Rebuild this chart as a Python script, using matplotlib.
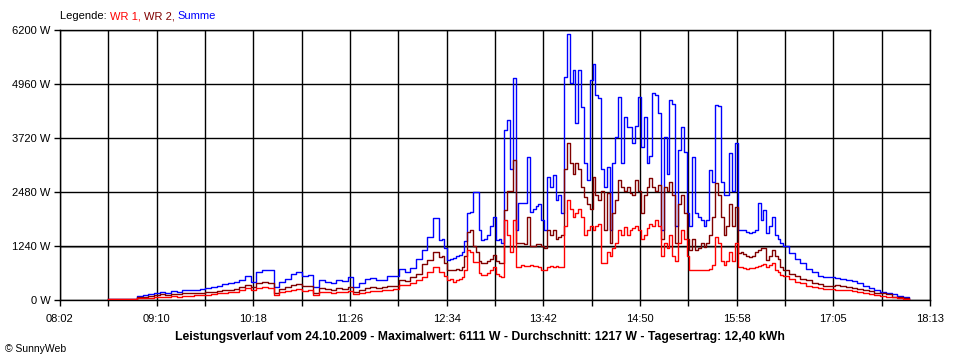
import numpy as np
import matplotlib
matplotlib.use("Agg")
import matplotlib.pyplot as plt

plt.rcParams["font.family"] = ["Liberation Sans", "DejaVu Sans"]

# ── data ─────────────────────────────────────────────────────────────────────
# sample times in minutes after midnight
TIMES = np.concatenate([np.arange(516, 750, 4),
                        np.arange(750, 990, 2),
                        np.arange(990, 1079, 4)])

SUMME = [
    25, 25, 25, 25, 25, 90, 110, 130, 170, 190, 170, 210, 190, 220, 230, 240,
    250, 270, 300, 330, 370, 400, 420, 470, 540, 420, 640, 700, 680, 300, 420,
    480, 600, 640, 560, 580, 300, 470, 420, 380, 460, 440, 530, 290, 380, 480,
    500, 450, 470, 540, 560, 720, 650, 730, 950, 1150, 1450, 1880, 1380,
    # 12:30 - 16:28
    1400, 1190, 920, 950, 960, 1000, 1030, 1100, 1350, 1990, 2030, 2490, 2480,
    1600, 1380, 1400, 1500, 1700, 1910, 1380, 1400, 1310, 3900, 4130, 3000,
    5090, 1610, 2220, 2220, 2220, 3290, 2030, 2100, 2150, 2200, 1840, 1610,
    2830, 2600, 2870, 2300, 2400, 1990, 5130, 6111, 4975, 5280, 4060, 5280,
    4440, 3140, 2750, 5050, 5430, 4700, 4630, 3000, 2600, 3060, 1610, 3140,
    3750, 4670, 3140, 4210, 3980, 3980, 3600, 4000, 4668, 3520, 4210, 3140,
    3300, 4745, 4700, 4286, 1607, 3750, 2900, 4590, 4500, 1700, 3444, 3980,
    3400, 2000, 1700, 3290, 2000, 1900, 1840, 1700, 1840, 2985, 2700, 4478,
    4450, 2700, 2400, 2400, 3368, 2500, 3600, 1607, 1600, 1600, 1560, 1531,
    1560, 1600, 2220, 1840, 2067, 1531, 1700, 1914, 1500, 1400, 1300,
    # 16:30 - 17:58
    1250, 1080, 930, 840, 720, 640, 560, 530, 530, 510, 480, 465, 430, 380,
    320, 280, 230, 190, 160, 140, 100, 70, 25,
]

WR2 = [
    20, 20, 20, 20, 20, 60, 80, 90, 110, 130, 120, 140, 130, 150, 150, 160,
    165, 177, 190, 205, 225, 240, 260, 300, 345, 300, 390, 420, 400, 150, 260,
    300, 340, 360, 320, 320, 170, 270, 260, 240, 270, 260, 290, 190, 230, 280,
    290, 280, 300, 310, 330, 450, 430, 535, 600, 820, 920, 1100, 980,
    1000, 850, 700, 700, 690, 720, 700, 760, 1000, 1570, 1600, 1250, 1100,
    900, 850, 840, 900, 950, 1030, 900, 850, 848, 2070, 2500, 2500,
    3210, 1300, 1300, 1300, 1280, 1910, 1250, 1250, 1280, 1280, 1250, 1200,
    1600, 1500, 1600, 1400, 1450, 1500, 3000, 3600, 3140, 2900, 3140, 3000,
    2600, 2370, 2200, 2100, 2830, 2400, 2300, 2500, 1610, 2450, 1300, 2000,
    2300, 2750, 2600, 2500, 2600, 2450, 2400, 2750, 2500, 2000, 2400, 2600,
    2800, 2600, 2500, 2650, 1400, 2600, 2500, 2710, 2400, 1300, 2200, 2400,
    2000, 1400, 1150, 1400, 1150, 1200, 1300, 1225, 1300, 1500, 1900, 2680,
    2400, 1900, 1500, 1700, 2200, 1700, 2143, 1072, 1100, 1050, 1000, 995,
    1000, 1100, 1150, 1186, 1200, 918, 1000, 1148, 1000, 950, 765,
    700, 600, 540, 490, 450, 400, 370, 330, 321, 340, 330, 300, 280, 260,
    230, 200, 170, 150, 130, 80, 60, 40, 20,
]

WR1 = [
    15, 15, 15, 15, 15, 40, 50, 55, 65, 75, 75, 85, 80, 95, 100, 110,
    110, 115, 130, 150, 160, 175, 190, 220, 268, 230, 280, 290, 280, 110, 190,
    210, 240, 250, 214, 220, 120, 190, 180, 170, 190, 185, 200, 130, 160, 190,
    200, 200, 220, 230, 250, 340, 340, 383, 450, 535, 650, 765, 650,
    650, 560, 470, 480, 420, 450, 480, 535, 700, 1150, 1110, 880, 880,
    620, 574, 580, 620, 700, 765, 600, 540, 535, 1840, 1500, 1100,
    1840, 765, 765, 800, 780, 780, 800, 780, 780, 760, 700, 690,
    760, 780, 760, 780, 760, 760, 1700, 2300, 2100, 1900, 2000, 2100,
    1900, 1500, 1600, 1700, 1610, 1700, 1750, 842, 850, 1100, 1000, 1200,
    1300, 1607, 1500, 1684, 1500, 1600, 1650, 1700, 1600, 1400, 1500, 1650,
    1750, 1700, 1837, 1700, 1000, 1300, 1200, 1500, 1000, 900, 1300, 1600,
    1400, 1000, 690, 700, 700, 690, 700, 690, 700, 720, 800, 1454,
    1300, 900, 800, 900, 1100, 900, 1300, 765, 750, 740, 720, 740,
    740, 760, 780, 804, 820, 750, 800, 842, 700, 640, 574,
    550, 480, 420, 380, 330, 290, 270, 250, 245, 240, 230, 220, 200, 185,
    165, 140, 120, 95, 75, 60, 40, 25, 15,
]

Y_TICKS = [0, 1240, 2480, 3720, 4960, 6200]
X_LABELS = ["08:02", "09:10", "10:18", "11:26", "12:34",
            "13:42", "14:50", "15:58", "17:05", "18:13"]
T_MIN, T_MAX = 482, 1093

C_WR1 = "#FF0000"
C_WR2 = "#800000"
C_SUM = "#0000FF"

# ── figure ───────────────────────────────────────────────────────────────────
fig = plt.figure(figsize=(9.6, 3.6), dpi=100, facecolor="white")
ax = fig.add_axes([0.0625, 0.1667, 0.90625, 0.75])

ax.plot(TIMES, SUMME, color=C_SUM, lw=1.0, drawstyle="steps-post", zorder=3)
ax.plot(TIMES, WR2, color=C_WR2, lw=1.0, drawstyle="steps-post", zorder=4)
ax.plot(TIMES, WR1, color=C_WR1, lw=1.0, drawstyle="steps-post", zorder=5)

ax.set_xlim(T_MIN, T_MAX)
ax.set_ylim(0, 6200)

n_grid = 2 * (len(X_LABELS) - 1)
grid_x = np.linspace(T_MIN, T_MAX, n_grid + 1)
ax.set_xticks(grid_x[::2])
ax.set_xticklabels(X_LABELS, fontsize=8)
ax.set_xticks(grid_x[1::2], minor=True)
ax.set_yticks(Y_TICKS)
ax.set_yticklabels([f"{v} W" for v in Y_TICKS], fontsize=8)

ax.tick_params(axis="both", which="both", direction="out", length=4,
               width=1, color="black", pad=3)
ax.tick_params(axis="x", pad=6)
ax.grid(True, which="both", color="black", lw=1.0, zorder=1)
for s in ax.spines.values():
    s.set_color("black")
    s.set_linewidth(1.0)

# the 1240 W line has a grey shadow in the original
ax.axhline(1240 - 22, color="#909090", lw=0.8, zorder=1)

# legend line on top, coloured word by word
prev = fig.text(0.0625, 0.955, "Legende: ", fontsize=8, color="black",
                va="center")
for txt, col in [("WR 1, ", C_WR1), ("WR 2, ", C_WR2), ("Summe", C_SUM)]:
    prev = ax.annotate(txt, xy=(1, 0.5), xycoords=prev, va="center",
                       ha="left", fontsize=8, color=col, annotation_clip=False)

fig.text(0.5, 0.064,
         "Leistungsverlauf vom 24.10.2009 - Maximalwert: 6111 W - "
         "Durchschnitt: 1217 W - Tagesertrag: 12,40 kWh",
         ha="center", va="center", fontsize=8.8, fontweight="bold")
fig.text(0.005, 0.03, "© SunnyWeb", ha="left", va="center", fontsize=7.5)

fig.savefig("out.png", dpi=100)
